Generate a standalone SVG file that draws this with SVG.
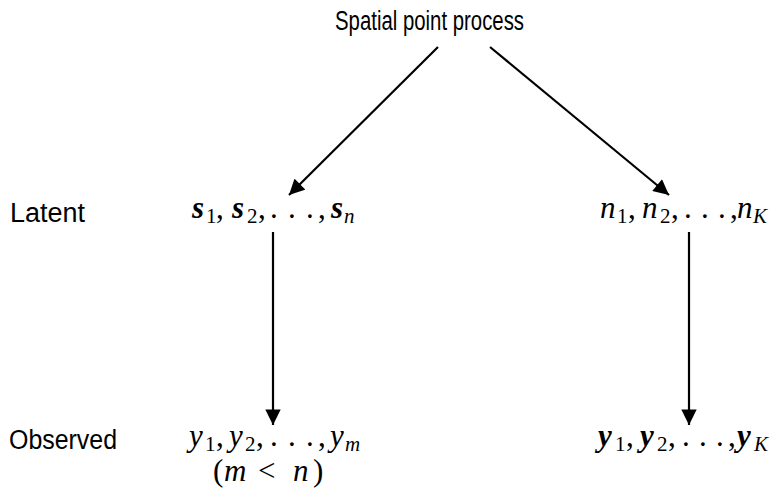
<svg xmlns="http://www.w3.org/2000/svg" width="777" height="490" viewBox="0 0 777 490">
<defs>
<marker id="ah" viewBox="0 0 10 10" refX="10" refY="5" markerWidth="7.5" markerHeight="7" markerUnits="strokeWidth" orient="auto">
<path d="M0,0 L10,5 L0,10 z" fill="#000"/>
</marker>
<style>
.sans{font-family:"Liberation Sans","DejaVu Sans",sans-serif;font-size:27px;fill:#000}
.m{font-family:"Liberation Serif",serif;font-size:31px;font-style:italic;fill:#000}
.mb{font-family:"Liberation Serif",serif;font-size:31px;font-style:italic;font-weight:bold;fill:#000}
.r{font-family:"Liberation Serif",serif;font-size:31px;font-style:normal;font-weight:normal;fill:#000}
.sub{font-family:"Liberation Serif",serif;font-size:21px;font-style:normal;font-weight:normal;fill:#000}
.subi{font-family:"Liberation Serif",serif;font-size:21px;font-style:italic;font-weight:normal;fill:#000}
.edge{stroke:#000;stroke-width:2.2;fill:none;marker-end:url(#ah)}
</style>
</defs>
<rect width="777" height="490" fill="#fff"/>
<g id="root"><text class="sans" x="335" y="30" textLength="189" lengthAdjust="spacingAndGlyphs">Spatial point process</text></g>
<g id="label-latent"><text class="sans" x="10" y="222" textLength="75" lengthAdjust="spacingAndGlyphs">Latent</text></g>
<g id="label-observed"><text class="sans" x="9" y="449" textLength="108" lengthAdjust="spacingAndGlyphs">Observed</text></g>
<g id="s-latent">
<text class="mb" y="218"><tspan x="192">s</tspan><tspan class="sub" x="206" y="223">1</tspan><tspan class="r" x="216" y="218">,</tspan><tspan x="232">s</tspan><tspan class="sub" x="247" y="223">2</tspan><tspan class="r" x="258" y="218">,</tspan><tspan class="r" x="270">.</tspan><tspan class="r" x="288">.</tspan><tspan class="r" x="306">.</tspan><tspan class="r" x="318">,</tspan><tspan x="331">s</tspan><tspan class="subi" x="344" y="223">n</tspan></text>
</g>
<g id="n-latent">
<text class="m" y="218"><tspan x="600">n</tspan><tspan class="sub" x="617" y="223">1</tspan><tspan class="r" x="628" y="218">,</tspan><tspan x="642">n</tspan><tspan class="sub" x="660" y="223">2</tspan><tspan class="r" x="671" y="218">,</tspan><tspan class="r" x="684">.</tspan><tspan class="r" x="701">.</tspan><tspan class="r" x="718">.</tspan><tspan class="r" x="730">,</tspan><tspan x="737">n</tspan><tspan class="subi" x="753" y="223">K</tspan></text>
</g>
<g id="y-observed">
<text class="m" y="446"><tspan x="189">y</tspan><tspan class="sub" x="205" y="451">1</tspan><tspan class="r" x="216" y="446">,</tspan><tspan x="229">y</tspan><tspan class="sub" x="245" y="451">2</tspan><tspan class="r" x="256" y="446">,</tspan><tspan class="r" x="270">.</tspan><tspan class="r" x="288">.</tspan><tspan class="r" x="306">.</tspan><tspan class="r" x="318">,</tspan><tspan x="330">y</tspan><tspan class="subi" x="345" y="451">m</tspan></text>
<text class="r" y="481"><tspan x="213">(</tspan><tspan class="m" x="224">m</tspan><tspan x="258">&lt;</tspan><tspan class="m" x="293">n</tspan><tspan x="313">)</tspan></text>
</g>
<g id="y-bold">
<text class="mb" y="446"><tspan x="598">y</tspan><tspan class="sub" x="615" y="451">1</tspan><tspan class="r" x="626" y="446">,</tspan><tspan x="640">y</tspan><tspan class="sub" x="657" y="451">2</tspan><tspan class="r" x="668" y="446">,</tspan><tspan class="r" x="682">.</tspan><tspan class="r" x="699">.</tspan><tspan class="r" x="716">.</tspan><tspan class="r" x="728">,</tspan><tspan x="737">y</tspan><tspan class="subi" x="754" y="451">K</tspan></text>
</g>
<g id="connectors">
<line class="edge" x1="438" y1="47" x2="289" y2="195"/>
<line class="edge" x1="490" y1="47" x2="669" y2="195"/>
<line class="edge" x1="273" y1="232" x2="273" y2="425"/>
<line class="edge" x1="689" y1="232" x2="689" y2="425"/>
</g>
</svg>
